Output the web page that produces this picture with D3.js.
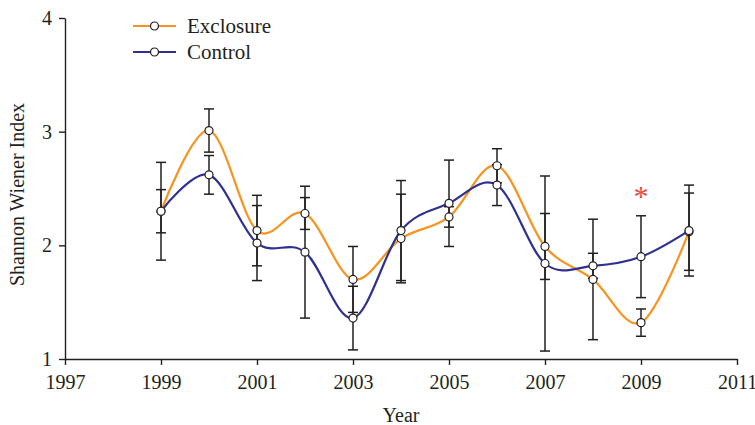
<!DOCTYPE html>
<html>
<head>
<meta charset="utf-8">
<script src="https://cdn.jsdelivr.net/npm/d3@7/dist/d3.min.js"></script>
<style>
  html, body { margin: 0; padding: 0; background: #fff; }
  svg text { font-family: "Liberation Serif", "Times New Roman", Times, serif !important; }
</style>
</head>
<body>
<svg id="chart" width="755" height="425"></svg>
<script>
// Shannon–Wiener diversity by year, grazing exclosure vs. control plots
const years = [1999, 2000, 2001, 2002, 2003, 2004, 2005, 2006, 2007, 2008, 2009, 2010];
const exclosure   = [2.30, 3.01, 2.13, 2.28, 1.70, 2.06, 2.25, 2.70, 1.99, 1.70, 1.32, 2.12];
const exclosureSE = [0.19, 0.19, 0.31, 0.14, 0.29, 0.39, 0.09, 0.15, 0.29, 0.53, 0.12, 0.34];
const control     = [2.30, 2.62, 2.02, 1.94, 1.36, 2.13, 2.37, 2.53, 1.84, 1.82, 1.90, 2.13];
const controlSE   = [0.43, 0.17, 0.33, 0.58, 0.28, 0.44, 0.38, 0.18, 0.77, 0.11, 0.36, 0.40];
const xTicks = [1997, 1999, 2001, 2003, 2005, 2007, 2009, 2011];
const yTicks = [1, 2, 3, 4];
const significantYears = [2009];

const serif = "'Liberation Serif', 'Times New Roman', Times, serif";
const svg = d3.select("#chart").attr("font-family", serif);
const x = d3.scaleLinear().domain([1997, 2011]).range([65, 737]);
const y = d3.scaleLinear().domain([1, 4]).range([359, 18]);

const ink = "#231F20";
const series = [
  { name: "Exclosure", values: exclosure, se: exclosureSE, color: "#F7931E" },
  { name: "Control",   values: control,   se: controlSE,   color: "#2E3192" }
];

// axes
const xAxis = svg.append("g")
  .attr("transform", `translate(0,${y(1)})`)
  .call(d3.axisBottom(x).tickValues(xTicks).tickFormat(d3.format("d")).tickSize(6).tickSizeOuter(0).tickPadding(10));
const yAxis = svg.append("g")
  .attr("transform", `translate(${x(1997)},0)`)
  .call(d3.axisLeft(y).tickValues(yTicks).tickFormat(d3.format("d")).tickSize(6).tickSizeOuter(0).tickPadding(7));
[xAxis, yAxis].forEach(g => {
  g.attr("font-family", serif).attr("font-size", 20);
  g.select(".domain").attr("stroke", ink).attr("stroke-width", 1.4);
  g.selectAll(".tick line").attr("stroke", ink).attr("stroke-width", 1.4);
  g.selectAll(".tick text").attr("fill", ink);
});

svg.append("text")
  .attr("x", (x(1997) + x(2011)) / 2).attr("y", 422)
  .attr("text-anchor", "middle").attr("fill", ink)
  .attr("font-size", 20).text("Year");
svg.append("text")
  .attr("transform", `translate(24,${(y(1) + y(4)) / 2 + 6}) rotate(-90)`)
  .attr("text-anchor", "middle").attr("fill", ink)
  .attr("font-size", 20).text("Shannon Wiener Index");

// smoothed series lines
const line = d3.line()
  .x((d, i) => x(years[i]))
  .y(d => y(d))
  .curve(d3.curveCardinal.tension(0));
series.forEach(s => {
  svg.append("path")
    .datum(s.values)
    .attr("fill", "none")
    .attr("stroke", s.color)
    .attr("stroke-width", 2.2)
    .attr("d", line);
});

// error bars (mean ± SE)
const cap = 5;
series.forEach(s => {
  const g = svg.append("g").attr("stroke", ink).attr("stroke-width", 1.5);
  s.values.forEach((v, i) => {
    const cx = x(years[i]);
    const top = y(v + s.se[i]), bot = y(v - s.se[i]);
    g.append("line").attr("x1", cx).attr("x2", cx).attr("y1", top).attr("y2", bot);
    g.append("line").attr("x1", cx - cap).attr("x2", cx + cap).attr("y1", top).attr("y2", top);
    g.append("line").attr("x1", cx - cap).attr("x2", cx + cap).attr("y1", bot).attr("y2", bot);
  });
});

// point markers
series.forEach(s => {
  svg.append("g").selectAll("circle")
    .data(s.values)
    .join("circle")
    .attr("cx", (d, i) => x(years[i]))
    .attr("cy", d => y(d))
    .attr("r", 4)
    .attr("fill", "#fff")
    .attr("stroke", ink)
    .attr("stroke-width", 1.2);
});

// significance marker
significantYears.forEach(yr => {
  const i = years.indexOf(yr);
  const top = Math.max(exclosure[i] + exclosureSE[i], control[i] + controlSE[i]);
  svg.append("text")
    .attr("x", x(yr)).attr("y", y(top) - 10)
    .attr("text-anchor", "middle")
    .attr("fill", "#E8473E")
    .attr("font-size", 30)
    .text("*");
});

// legend
const legend = svg.append("g").attr("transform", "translate(133,26)");
series.forEach((s, i) => {
  const g = legend.append("g").attr("transform", `translate(0,${i * 26})`);
  g.append("line").attr("x1", 0).attr("x2", 43).attr("y1", 0).attr("y2", 0)
    .attr("stroke", s.color).attr("stroke-width", 2.2);
  g.append("circle").attr("cx", 21.5).attr("cy", 0).attr("r", 4)
    .attr("fill", "#fff").attr("stroke", ink).attr("stroke-width", 1.2);
  g.append("text").attr("x", 54).attr("y", 7).attr("fill", ink)
    .attr("font-size", 21).text(s.name);
});
</script>
</body>
</html>
